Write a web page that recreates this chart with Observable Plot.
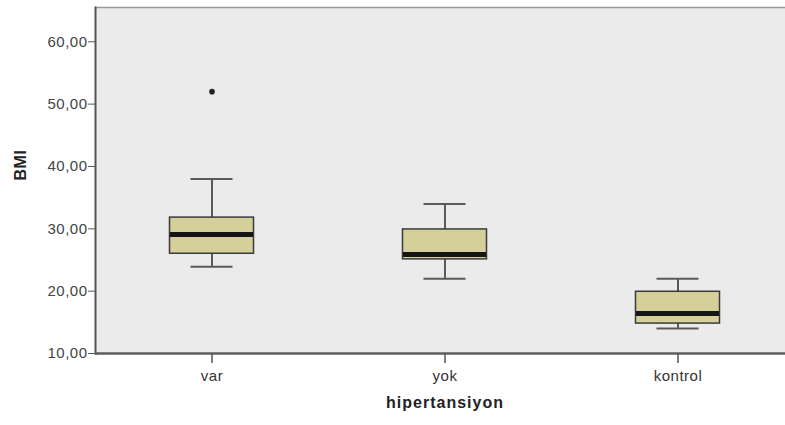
<!DOCTYPE html>
<html>
<head>
<meta charset="utf-8">
<script src="https://cdn.jsdelivr.net/npm/d3@7"></script>
<script src="https://cdn.jsdelivr.net/npm/@observablehq/plot@0.6"></script>
<style>
  body { margin: 0; background: #fff; }
  #chart svg { display: block; }
</style>
</head>
<body>
<div id="chart"></div>
<script>
const categories = ["var", "yok", "kontrol"];
const whiskerLow = [23.9, 22.0, 14.0];
const q1 = [26.0, 25.1, 14.8];
const median = [29.1, 25.9, 16.4];
const q3 = [31.8, 29.9, 19.9];
const whiskerHigh = [38.0, 34.0, 22.0];
const outlierCategory = ["var"];
const outlierValue = [52.0];
const yTicks = [10, 20, 30, 40, 50, 60];

const boxes = categories.map((c, i) => ({
  cat: c, lo: whiskerLow[i], q1: q1[i], med: median[i], q3: q3[i], hi: whiskerHigh[i]
}));
const outliers = outlierCategory.map((c, i) => ({cat: c, v: outlierValue[i]}));

const fmt = d => d.toFixed(2).replace(".", ",");
const font = "Liberation Sans, Arial, sans-serif";

const chart = Plot.plot({
  width: 785,
  height: 425,
  marginLeft: 95,
  marginRight: -9,
  marginTop: 7,
  marginBottom: 72,
  style: {fontFamily: font, fontSize: "15px", color: "#333", background: "#fff", letterSpacing: "0.5px"},
  x: {domain: categories, padding: 0, label: null},
  y: {domain: [10, 65.5], label: null},
  marks: [
    Plot.frame({fill: "#ebebeb", stroke: null}),
    Plot.ruleY([65.5], {stroke: "#9a9a9a", strokeWidth: 1.5}),
    Plot.ruleY([10], {stroke: "#5e5e5e", strokeWidth: 2.5}),
    Plot.frame({anchor: "left", stroke: "#555", strokeWidth: 2}),
    Plot.axisY({ticks: yTicks, tickFormat: fmt, tickSize: 7, tickPadding: 1, label: null, stroke: "#555", fill: "#444"}),
    Plot.axisX({tickSize: 10, tickPadding: 7, label: null, stroke: "#555", strokeWidth: 1.5, fill: "#333"}),
    // whiskers
    Plot.ruleX(boxes, {x: "cat", y1: "q3", y2: "hi", stroke: "#5a5a5a", strokeWidth: 2}),
    Plot.ruleX(boxes, {x: "cat", y1: "lo", y2: "q1", stroke: "#5a5a5a", strokeWidth: 2}),
    Plot.tickY(boxes, {x: "cat", y: "hi", stroke: "#5a5a5a", strokeWidth: 2, inset: 95.5}),
    Plot.tickY(boxes, {x: "cat", y: "lo", stroke: "#5a5a5a", strokeWidth: 2, inset: 95.5}),
    // boxes
    Plot.barY(boxes, {x: "cat", y1: "q1", y2: "q3", fill: "#d5d09a", stroke: "#3a3a3a", strokeWidth: 1.5, insetLeft: 74.5, insetRight: 74.5}),
    Plot.tickY(boxes, {x: "cat", y: "med", stroke: "#151515", strokeWidth: 5, inset: 75}),
    // outliers
    Plot.dot(outliers, {x: "cat", y: "v", r: 2.8, fill: "#222", stroke: "none"}),
    // axis titles
    Plot.text(["BMI"], {frameAnchor: "left", dx: -75, rotate: -90, fontWeight: "bold", fontSize: 16, fill: "#222"}),
    Plot.text(["hipertansiyon"], {frameAnchor: "bottom", dy: 54, fontWeight: "bold", fontSize: 16, fill: "#222"})
  ]
});
d3.select(chart).selectAll("text").filter(function() { return this.textContent === "hipertansiyon"; })
  .style("letter-spacing", "1px");
document.getElementById("chart").appendChild(chart);
</script>
</body>
</html>
